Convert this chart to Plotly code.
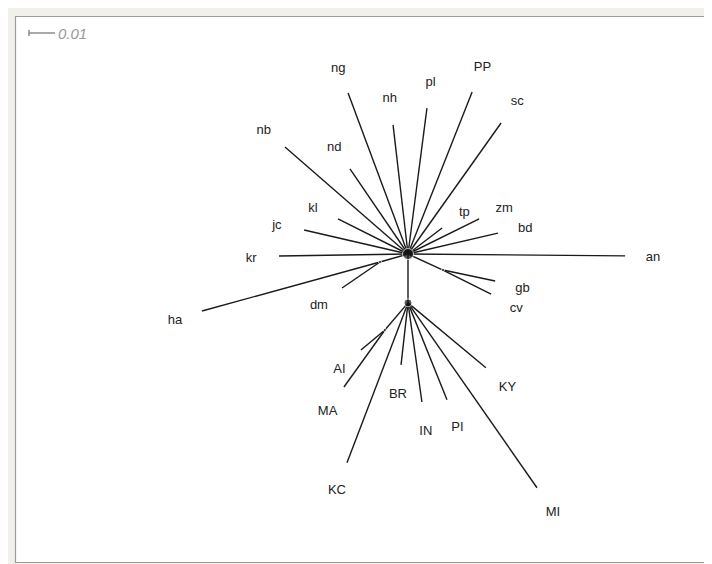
import math
import plotly.graph_objects as go

# ---------------- data: unrooted tree (branch length, direction in degrees) ----------------
internal_names = ["root", "hub2", "hd", "gc", "am"]
internal_parent = [None, "root", "root", "root", "hub2"]
internal_len = [0.0, 0.0188, 0.0112, 0.0148, 0.0137]
internal_angle = [0.0, -90.0, 195.9, -24.6, 229.6]

leaf_names = ["ng", "pl", "PP", "sc", "nh", "nb", "nd", "kl", "jc", "tp", "zm", "bd",
              "kr", "an", "ha", "dm", "gb", "cv",
              "AI", "MA", "KC", "BR", "IN", "PI", "KY", "MI"]
leaf_parent = ["root"] * 14 + ["hd", "hd", "gc", "gc",
                               "am", "am", "hub2", "hub2", "hub2", "hub2", "hub2", "hub2"]
leaf_len = [0.0661, 0.0566, 0.0670, 0.0618, 0.0500, 0.0627, 0.0396, 0.0301, 0.0410, 0.0165,
            0.0305, 0.0355, 0.0496, 0.0835, 0.0710, 0.0177, 0.0205, 0.0207,
            0.0120, 0.0270, 0.0658, 0.0240, 0.0385, 0.0402, 0.0390, 0.0867]
leaf_angle = [110.4, 82.6, 68.4, 54.6, 96.6, 139.0, 124.3, 153.4, 167.0, 37.4,
              26.2, 13.1, 180.9, -0.5, 195.4, 214.4, -11.9, -26.6,
              219.8, 234.3, 249.1, 263.6, 278.0, 291.9, 320.2, 304.9]

scale_bar_len = 0.01
scale_bar_text = "0.01"

# ---------------- layout (pixel positions are in figure coordinates) ----------------
W, H = 704, 556                    # fits the 712x564 window with the 8px page margin
PX = scale_bar_len / 26.0          # data units per pixel
ROOT_PX = (400, 246)               # figure-pixel position of the root hub
ML, MR, MT, MB = 8, 0, 9, 2

x_range = [(ML - ROOT_PX[0]) * PX, (W - MR - ROOT_PX[0]) * PX]
y_range = [(ROOT_PX[1] - (H - MB)) * PX, (ROOT_PX[1] - MT) * PX]

pos = {}
for n, p, l, a in zip(internal_names, internal_parent, internal_len, internal_angle):
    if p is None:
        pos[n] = (0.0, 0.0)
    else:
        px, py = pos[p]
        pos[n] = (px + l * math.cos(math.radians(a)), py + l * math.sin(math.radians(a)))

ex, ey = [], []
for n, p in zip(internal_names, internal_parent):
    if p is None:
        continue
    ex += [pos[p][0], pos[n][0], None]
    ey += [pos[p][1], pos[n][1], None]

lab_x, lab_y = [], []
gap = 28 * PX
drop = 2 * PX
for n, p, l, a in zip(leaf_names, leaf_parent, leaf_len, leaf_angle):
    px, py = pos[p]
    c, s = math.cos(math.radians(a)), math.sin(math.radians(a))
    tx, ty = px + l * c, py + l * s
    ex += [px, tx, None]
    ey += [py, ty, None]
    lab_x.append(tx + gap * c)
    lab_y.append(ty + gap * s - drop)

fig = go.Figure()
fig.add_trace(go.Scatter(x=ex, y=ey, mode="lines",
                         line=dict(color="#1a1a1a", width=1.4),
                         hoverinfo="skip", showlegend=False))
fig.add_trace(go.Scatter(x=[pos[n][0] for n in internal_names],
                         y=[pos[n][1] for n in internal_names],
                         mode="markers",
                         marker=dict(color="#111111", size=[11, 8, 3, 3, 3]),
                         hoverinfo="skip", showlegend=False))
fig.add_trace(go.Scatter(x=lab_x, y=lab_y, mode="text", text=leaf_names,
                         textposition="middle center",
                         textfont=dict(family="Liberation Sans, Arial, sans-serif",
                                       size=13, color="#222222"),
                         hoverinfo="skip", showlegend=False))

# scale bar
sb_x0 = (21 - ROOT_PX[0]) * PX
sb_y = (ROOT_PX[1] - 25) * PX
tick = 3 * PX
sb_col = "#8c8c8c"
shapes = [
    dict(type="line", xref="x", yref="y", x0=sb_x0, x1=sb_x0 + scale_bar_len, y0=sb_y, y1=sb_y,
         line=dict(color=sb_col, width=1.5)),
    dict(type="line", xref="x", yref="y", x0=sb_x0, x1=sb_x0, y0=sb_y - tick, y1=sb_y + tick,
         line=dict(color=sb_col, width=1.5)),
]

# panel border
pw, ph = W - ML - MR, H - MT - MB
def fx(p):
    return (p - ML) / pw
def fy(p):
    return (H - MB - p) / ph

shapes += [
    dict(type="rect", xref="paper", yref="paper", x0=fx(7.5), x1=fx(W + 3), y0=fy(554.5), y1=fy(8.5),
         fillcolor="rgba(0,0,0,0)", line=dict(color="#9c9c9c", width=1.2)),
]

fig.update_layout(
    width=W, height=H,
    margin=dict(l=ML, r=MR, t=MT, b=MB, pad=0),
    paper_bgcolor="#f1f0eb",
    plot_bgcolor="white",
    xaxis=dict(range=x_range, visible=False, fixedrange=True),
    yaxis=dict(range=y_range, visible=False, fixedrange=True),
    shapes=shapes,
    annotations=[dict(x=sb_x0 + scale_bar_len + 1 * PX, y=sb_y, xref="x", yref="y",
                      text="<i>" + scale_bar_text + "</i>", showarrow=False,
                      xanchor="left", yanchor="middle",
                      font=dict(family="Liberation Sans, Arial, sans-serif", size=15,
                                color="#9a9a9a"))],
    showlegend=False,
)

fig.write_html("out.html")
